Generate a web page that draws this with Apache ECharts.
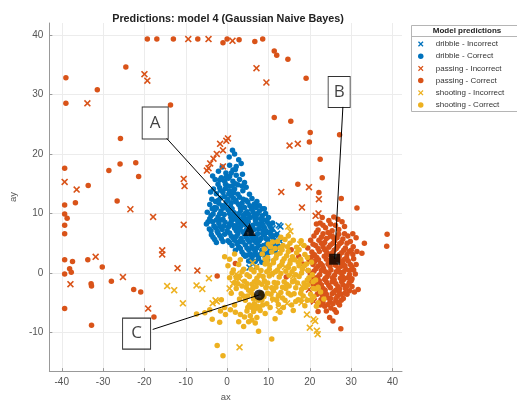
<!DOCTYPE html>
<html>
<head>
<meta charset="utf-8">
<script src="https://cdn.jsdelivr.net/npm/echarts@6/dist/echarts.min.js"></script>
<style>
  html, body { margin: 0; padding: 0; background: #fff; }
  #chart { width: 517px; height: 407px; }
</style>
</head>
<body>
<div id="chart"></div>
<script>
// Axis ticks
const xTicks = [-40, -30, -20, -10, 0, 10, 20, 30, 40];
const yTicks = [-10, 0, 10, 20, 30, 40];

// Class names shown in the legend
const classNames = [
  'dribble - Incorrect', 'dribble - Correct',
  'passing - Incorrect', 'passing - Correct',
  'shooting - Incorrect', 'shooting - Correct'
];

// Predicted points [ax, ay]
const dribbleIncorrect = [
  [11.0, 7.5], [12.5, 8.0], [12.9, 5.3], [11.4, 6.4], [12.1, 6.6], [5.4, 0.9], [7.0, 1.0], [12.9, 7.8]
];

const dribbleCorrect = [
  [1.3, 20.6], [0.5, 19.5], [2.8, 19.0], [1.8, 20.0],
  [3.4, 18.4], [2.2, 17.9], [1.4, 17.3], [-0.3, 16.8], [-2.1, 17.1], [3.7, 16.6], [0.6, 18.1], [-1.2, 17.8],
  [0.6, 16.2], [-1.4, 16.0], [-2.9, 15.7], [-0.6, 15.4], [1.4, 15.4], [3.0, 15.7], [2.2, 16.4], [-3.5, 16.3], [4.2, 15.2], [0.3, 15.9],
  [0.2, 14.6], [-1.8, 14.3], [-3.3, 14.1], [1.8, 14.1], [3.8, 13.8], [-1.0, 13.5], [1.0, 13.0], [3.0, 12.7], [5.4, 13.2], [-2.6, 13.3],
  [4.6, 14.4], [2.6, 14.8], [-0.4, 14.9], [-4.0, 13.6], [0.6, 13.8],
  [-3.7, 12.4], [-2.1, 12.2], [-0.2, 11.9], [2.2, 11.9], [4.6, 12.2], [6.6, 11.6], [7.8, 11.3], [8.6, 10.8], [-1.2, 11.3], [0.8, 11.2],
  [3.2, 11.0], [5.5, 11.3], [-4.2, 11.5], [-3.0, 11.0], [1.5, 12.6], [3.9, 12.4], [6.0, 12.5], [-0.6, 12.8], [2.8, 11.5], [7.2, 12.0],
  [-4.8, 10.2], [-3.9, 9.6], [-3.0, 10.6], [-2.2, 9.4], [-1.5, 10.4], [-0.7, 9.8], [0.2, 10.6], [0.9, 9.3], [1.7, 10.1], [2.5, 9.5],
  [3.3, 10.5], [4.0, 9.7], [4.8, 10.3], [5.6, 9.3], [6.3, 10.2], [7.0, 9.5], [7.8, 10.4], [8.5, 9.6], [9.3, 10.0], [10.0, 9.3],
  [-4.2, 9.1], [-1.0, 9.0], [2.0, 9.0], [4.5, 9.1], [6.8, 9.0], [9.0, 10.8], [-2.6, 10.9], [1.2, 10.8],
  [-5.0, 8.2], [-4.3, 7.4], [-3.5, 8.6], [-2.8, 7.6], [-2.0, 8.3], [-1.2, 7.3], [-0.5, 8.5], [0.3, 7.7], [1.0, 8.7], [1.8, 7.5],
  [2.6, 8.4], [3.3, 7.8], [4.0, 8.8], [4.7, 7.3], [6.2, 8.0], [6.9, 8.7], [7.6, 7.4], [8.3, 8.4], [9.0, 7.6], [9.7, 8.6],
  [10.4, 7.8], [11.0, 8.4], [-3.9, 7.1], [0.0, 7.1], [2.2, 7.1], [5.8, 7.0], [8.7, 7.1], [10.8, 7.2], [-1.6, 8.9], [3.0, 8.9],
  [-3.8, 6.4], [-3.0, 5.6], [-2.2, 6.7], [-1.4, 5.8], [-0.6, 6.5], [0.2, 5.4], [1.0, 6.2], [1.8, 5.5], [2.6, 6.6], [3.4, 5.8],
  [4.2, 6.5], [5.0, 5.6], [5.8, 6.3], [6.6, 5.4], [7.4, 6.6], [8.2, 5.8], [9.0, 6.4], [9.8, 5.6], [10.6, 6.3], [11.4, 5.5],
  [12.0, 6.4], [0.6, 5.1], [3.8, 5.2], [7.0, 5.1], [10.2, 5.1], [-2.6, 5.1],
  [1.2, 4.6], [2.0, 3.8], [2.8, 4.4], [3.6, 3.5], [4.4, 4.7], [5.2, 3.9], [6.0, 4.5], [6.8, 3.6], [7.6, 4.6], [8.4, 3.8],
  [9.2, 4.4], [10.0, 3.4], [10.8, 4.3], [11.6, 3.7], [12.4, 4.5], [5.6, 3.2], [8.0, 3.1], [9.6, 4.9], [4.0, 3.1], [11.2, 4.9],
  [4.4, 2.8], [5.2, 2.0], [6.0, 2.6], [6.8, 1.9], [7.6, 2.4], [8.4, 1.8], [9.2, 2.7], [5.6, 2.0], [7.2, 3.0], [9.8, 2.2],
  [-3.4, 9.9], [-2.6, 8.9], [-1.8, 9.9], [-0.9, 10.9], [0.6, 10.0], [1.4, 9.7], [2.9, 10.0], [3.7, 9.2], [4.4, 10.0], [5.2, 9.8],
  [5.9, 10.7], [6.6, 9.6], [7.4, 10.0], [8.1, 9.1], [8.9, 8.9], [-4.6, 8.6], [-3.2, 7.9], [-2.4, 7.0], [-1.6, 7.7], [-0.8, 7.9],
  [0.6, 8.2], [1.4, 8.0], [2.2, 7.9], [3.0, 7.3], [3.7, 8.4], [4.4, 8.1], [5.1, 8.6], [5.5, 7.7], [6.5, 7.3], [7.3, 8.2],
  [8.0, 7.8], [8.7, 8.0], [9.4, 7.1], [10.1, 8.2], [-3.4, 6.0], [-1.8, 6.3], [-1.0, 5.3], [0.6, 6.7], [1.4, 5.9], [2.2, 6.1],
  [3.0, 5.3], [3.8, 6.9], [4.6, 6.0], [5.4, 5.2], [6.2, 5.8], [7.0, 6.0], [7.8, 5.4], [8.6, 6.6], [9.4, 5.8], [10.0, 6.8],
  [11.0, 6.0], [2.4, 4.9], [3.2, 4.1], [4.8, 4.2], [6.4, 4.0], [7.2, 4.2], [8.8, 4.6], [10.4, 4.0], [11.8, 4.2], [5.0, 3.0],
  [6.4, 3.0], [8.8, 3.3], [-2.8, 12.0], [-1.6, 12.6], [0.2, 12.4], [1.0, 11.8], [2.0, 12.2], [3.6, 11.7], [4.2, 11.0], [5.0, 11.9],
  [6.2, 11.0], [7.0, 11.0], [-3.6, 10.8], [-2.0, 11.7], [-0.5, 11.3], [0.4, 13.3], [1.6, 13.5], [2.6, 13.2], [-1.6, 13.9], [-0.4, 14.2],
  [1.2, 14.6], [2.0, 15.0], [-2.2, 14.9], [3.6, 14.6], [-0.2, 16.1], [1.0, 16.8], [2.0, 17.4], [-1.8, 15.6]
];

const passingIncorrect = [
  [-33.8, 28.5], [-20.0, 33.4], [-19.3, 32.3], [-9.4, 39.3], [-4.5, 39.3], [1.3, 39.0], [7.1, 34.4], [9.5, 32.0],
  [15.1, 21.4], [17.1, 21.7], [19.8, 14.4], [13.1, 13.6], [-39.3, 15.3], [-36.4, 14.0], [-10.5, 15.8], [-10.3, 14.6],
  [-23.4, 10.7], [-17.9, 9.4], [-10.5, 8.1], [-15.7, 3.8], [-15.7, 3.1], [-31.8, 2.7], [-37.9, -1.9], [-25.2, -0.7],
  [-12.0, 0.8], [-7.2, 0.4], [-19.1, -6.0],
  [-1.7, 21.7], [-0.2, 22.2], [0.2, 22.6], [-1.0, 20.6], [-2.5, 20.0], [-3.3, 19.2], [-4.1, 18.4], [-4.5, 17.6], [-4.9, 17.2], [-1.0, 17.9],
  [18.1, 11.0], [22.2, 12.4], [21.4, 9.6], [20.9, 2.8], [25.2, 6.1], [23.0, -4.0], [21.0, -4.8], [28.8, -0.8], [26.4, -3.8],
  [19.8, -2.8], [24.0, 4.0], [22.1, 10.0]
];

const passingCorrect = [
  [-39.0, 32.8], [-39.0, 28.5], [-31.4, 30.8], [-24.5, 34.6], [-19.3, 39.3], [-17.0, 39.3], [-13.0, 39.3], [-7.1, 39.3],
  [-1.0, 38.7], [0.0, 39.3], [2.9, 39.2], [6.7, 38.9], [8.6, 39.3], [11.4, 37.3], [12.0, 36.6], [14.7, 35.9], [19.1, 32.7],
  [-13.7, 28.2], [-25.8, 22.6], [11.4, 26.1], [15.4, 25.5], [20.1, 23.6], [27.2, 23.2], [19.9, 22.0], [22.5, 19.1], [23.0, 16.0],
  [17.1, 14.9], [22.2, 13.5], [27.6, 12.5], [31.4, 10.9],
  [-39.3, 17.6], [-33.6, 14.7], [-28.6, 17.2], [-25.9, 18.3], [-22.1, 18.5], [-21.4, 16.2], [-39.3, 11.4], [-36.7, 11.8],
  [-26.6, 12.1], [-39.3, 9.9], [-38.7, 9.2], [-39.3, 8.0], [-39.3, 6.6], [-39.3, 2.2], [-37.4, 1.9], [-33.7, 2.2], [-30.2, 1.0],
  [-39.3, -0.2], [-38.1, 0.7], [-37.7, 0.1], [-32.9, -1.8], [-32.8, -2.2], [-28.0, -1.4], [-22.6, -2.8], [-20.9, -3.2],
  [-2.4, -0.5], [-39.3, -6.0], [-17.7, -7.4], [-32.8, -8.8], [2.0, 1.6], [38.7, 6.5], [38.6, 4.5], [33.2, 5.0], [31.2, 5.9],
  [32.6, 3.3], [27.5, -9.4], [15.5, 3.9], [17.3, 2.8], [14.3, -0.7], [18.3, 1.5],
  [22.5, 8.4], [23.8, 7.6], [24.6, 8.8], [26.2, 8.0], [27.0, 7.3], [22.0, 7.2], [25.4, 7.1], [23.0, 9.3], [26.8, 9.0], [28.4, 7.8],
  [21.0, 6.2], [22.2, 5.5], [23.2, 6.6], [24.0, 5.8], [25.0, 6.3], [26.0, 5.4], [27.0, 6.5], [28.0, 5.7], [29.2, 6.2], [23.6, 5.1],
  [25.6, 5.0], [27.6, 5.1], [20.2, 5.5], [29.8, 5.3],
  [19.5, 4.2], [20.5, 3.5], [21.4, 4.6], [22.3, 3.6], [23.2, 4.4], [24.1, 3.3], [25.0, 4.7], [25.9, 3.8], [26.8, 4.5], [27.7, 3.4],
  [28.6, 4.2], [29.5, 3.6], [21.0, 3.1], [24.6, 3.1], [27.2, 3.1], [30.5, 4.4], [30.4, 3.1],
  [19.8, 2.2], [20.8, 1.4], [21.7, 2.6], [22.6, 1.6], [23.5, 2.8], [24.4, 1.5], [25.3, 2.5], [26.2, 1.3], [27.1, 2.7], [28.0, 1.6],
  [28.9, 2.5], [29.8, 1.4], [22.0, 1.1], [24.9, 1.1], [27.6, 1.1], [30.6, 2.4], [21.2, 2.9], [28.4, 2.3],
  [19.6, 0.4], [20.6, -0.5], [21.5, 0.7], [22.4, -0.3], [23.3, 0.8], [24.2, -0.6], [25.1, 0.5], [26.0, -0.4], [26.9, 0.8], [27.8, -0.5],
  [28.7, 0.6], [29.6, -0.3], [30.6, 0.5], [23.8, 0.2], [27.3, 0.1], [21.0, -0.9], [29.6, 0.4],
  [20.4, -1.5], [21.4, -2.4], [22.3, -1.3], [23.2, -2.6], [24.1, -1.6], [25.0, -2.5], [25.9, -1.2], [26.8, -2.3], [27.7, -1.5], [28.6, -2.6],
  [29.5, -1.7], [23.7, -2.9], [26.3, -2.9], [28.2, -1.1], [31.7, -2.8], [30.2, -2.3],
  [21.8, -3.6], [22.7, -4.5], [23.6, -3.3], [24.5, -4.2], [25.4, -3.5], [26.3, -4.6], [27.2, -3.4], [28.1, -4.3], [29.0, -3.6], [30.8, -3.2],
  [24.9, -4.9], [27.6, -4.6],
  [22.5, -5.4], [23.6, -5.6], [24.0, -6.4], [25.1, -5.9], [26.0, -6.2], [26.4, -6.6], [27.2, -5.4], [24.8, -7.5], [22.0, -6.5], [25.6, -8.1],
  [21.6, 8.2], [23.2, 8.0], [25.0, 8.2], [25.8, 9.4], [27.8, 8.6], [21.6, 6.8], [22.8, 6.0], [24.4, 6.8], [25.6, 6.0], [26.6, 5.9],
  [28.4, 6.6], [29.0, 5.0], [30.4, 6.6], [20.8, 4.8], [22.0, 4.1], [22.8, 5.0], [23.6, 3.9], [24.6, 4.3], [25.5, 3.4], [26.4, 4.1],
  [27.2, 4.9], [28.2, 3.8], [29.0, 3.1], [30.0, 3.8], [31.4, 3.6], [20.3, 2.6], [21.2, 1.9], [22.1, 2.2], [23.0, 1.3], [24.0, 2.3],
  [24.8, 2.0], [25.7, 1.8], [26.6, 2.2], [27.5, 2.0], [28.5, 1.2], [29.3, 2.0], [30.2, 1.0], [31.2, 1.4], [20.1, -0.1], [21.0, 0.3],
  [21.9, -0.7], [22.8, 0.4], [23.8, -0.9], [24.6, -0.1], [25.5, -0.8], [26.4, 0.2], [27.4, -0.9], [28.2, 0.2], [29.2, -0.8], [30.2, -1.0],
  [31.0, -0.2], [20.9, -1.9], [21.8, -1.6], [22.8, -2.0], [23.6, -1.1], [24.6, -2.1], [25.4, -1.5], [26.3, -1.8], [27.2, -2.7], [28.0, -2.0],
  [29.0, -2.2], [30.0, -1.3], [22.3, -3.2], [23.1, -3.8], [24.0, -3.6], [25.0, -4.3], [25.8, -3.2], [26.7, -3.9], [27.6, -3.6], [28.5, -3.4],
  [29.6, -3.0], [23.2, -5.0], [24.4, -5.3], [25.6, -5.2], [26.8, -5.0]
];

const shootingIncorrect = [
  [-4.4, -0.9], [-14.5, -2.2], [-12.8, -2.9], [-7.4, -2.1], [-6.0, -2.7], [-10.7, -5.1], [-2.8, -4.6], [3.0, -12.5],
  [-2.5, -4.8], [-3.5, -5.1], [19.3, -7.0], [20.0, -9.2], [21.9, -10.3], [21.3, -8.1], [20.9, -7.8], [11.4, -4.5],
  [17.7, 4.8], [14.8, 7.8], [15.3, 7.0], [2.2, -0.2], [1.4, -1.8], [3.0, -1.0], [0.6, -2.6], [12.5, -3.7], [12.5, -6.2],
  [18.1, -2.3], [19.7, -4.5], [17.7, 1.7], [10.6, -0.2], [6.2, 1.7], [9.5, -2.0], [16.0, -0.6], [14.0, 1.0], [18.0, -5.0],
  [14.5, -5.1], [21.7, -9.7]
];

const shootingCorrect = [
  [-7.4, -6.9], [-5.4, -6.7], [-4.2, -6.2], [-3.6, -7.8], [-1.8, -8.3], [-2.4, -12.2], [-1.0, -13.9], [-1.4, -4.5], [-0.6, 2.7],
  [7.6, -9.8], [10.8, -11.1], [11.6, -7.7],
  [10.5, 4.4], [12.2, 5.3], [13.5, 4.6], [15.2, 5.0], [16.8, 4.3], [14.0, 5.6], [11.6, 4.1], [17.9, 5.4],
  [8.5, 3.2], [9.8, 2.6], [10.8, 3.5], [11.8, 2.5], [12.8, 3.3], [13.8, 2.4], [14.8, 3.6], [15.8, 2.7], [16.8, 3.4], [17.8, 2.3],
  [18.8, 3.1], [11.2, 2.1], [13.3, 3.9], [15.3, 2.1], [0.6, 2.3], [1.8, 3.2], [3.2, 2.2],
  [0.2, 1.2], [1.5, 0.5], [2.8, 1.4], [4.0, 0.6], [8.2, 0.4], [9.2, 1.5], [10.2, 0.6], [11.2, 1.7], [12.2, 0.5], [13.2, 1.4],
  [14.2, 0.3], [15.2, 1.6], [16.2, 0.7], [17.2, 1.8], [18.2, 0.6], [19.2, 1.5], [9.7, 1.9], [12.7, 1.1], [15.7, 0.2], [18.7, 1.2], [6.5, 0.2],
  [0.6, -0.8], [1.8, -1.6], [3.0, -0.5], [4.2, -1.4], [5.4, -0.6], [6.6, -1.5], [7.8, -0.4], [9.0, -1.3], [10.2, -0.5], [11.4, -1.6],
  [12.6, -0.7], [13.8, -1.5], [15.0, -0.4], [16.2, -1.3], [17.4, -0.6], [18.6, -1.7], [19.8, -0.8], [20.8, -1.5], [8.4, -1.9],
  [14.4, -1.9], [6.0, -1.9], [11.0, -0.1],
  [2.2, -2.6], [3.4, -3.5], [4.6, -2.4], [5.8, -3.3], [7.0, -2.3], [8.2, -3.4], [9.4, -2.5], [10.6, -3.6], [11.8, -2.4], [13.0, -3.3],
  [14.2, -2.6], [15.4, -3.7], [16.6, -2.5], [17.8, -3.4], [19.0, -2.4], [20.2, -3.6], [21.4, -2.7], [22.6, -3.2], [6.4, -3.9],
  [12.4, -3.9], [18.4, -3.9], [4.0, -3.9],
  [4.4, -4.6], [5.4, -5.4], [6.4, -4.4], [7.4, -5.6], [8.4, -4.6], [9.6, -5.2], [11.0, -4.4], [12.4, -5.3], [14.0, -4.6], [15.6, -5.4],
  [17.2, -4.5], [18.8, -5.5], [20.4, -4.6], [22.0, -5.0], [23.4, -4.4],
  [4.8, -6.4], [5.6, -7.2], [6.4, -6.5], [7.2, -7.5], [8.0, -6.3], [6.0, -7.9], [9.2, -6.8], [12.8, -6.6], [16.0, -6.3], [2.0, -6.6], [3.2, -7.0],
  [9.0, 4.0], [10.0, 4.8], [11.0, 5.2], [12.8, 4.2], [14.6, 4.4], [16.0, 5.5], [17.4, 3.9], [18.6, 4.6], [19.4, 2.6], [9.2, 2.3],
  [10.3, 1.3], [12.0, 3.0], [13.4, 1.9], [14.4, 2.9], [16.3, 2.2], [17.4, 1.2], [19.6, 0.4], [20.4, 1.8], [8.7, -0.6], [9.6, 0.2],
  [11.7, 0.2], [13.0, -0.1], [14.8, 0.9], [16.6, -0.3], [18.0, 0.0], [19.4, -1.2], [20.6, -0.3], [21.4, -1.2], [1.2, 0.0], [2.2, -0.8],
  [3.6, 0.2], [4.8, -0.3], [5.8, 0.6], [7.2, -0.9], [7.2, 0.9], [2.6, -1.8], [3.6, -2.2], [4.8, -1.8], [5.2, -2.9], [6.2, -2.6],
  [7.6, -1.6], [9.8, -1.7], [10.8, -2.5], [12.2, -1.7], [13.4, -2.4], [15.0, -2.2], [15.8, -1.5], [17.0, -1.7], [18.0, -2.8], [19.6, -2.0],
  [20.8, -2.6], [22.0, -2.4], [3.0, -4.4], [5.0, -3.9], [6.6, -5.2], [7.6, -4.6], [8.9, -4.0], [9.8, -3.4], [11.2, -3.0], [12.0, -4.6],
  [13.4, -4.2], [14.8, -3.4], [16.2, -3.5], [16.6, -4.8], [17.8, -4.6], [19.4, -4.6], [21.0, -4.0], [21.6, -5.6], [5.0, -5.8], [6.0, -5.8],
  [6.8, -6.0], [7.8, -6.0], [8.6, -5.4], [5.2, -8.2], [6.8, -8.4], [4.2, -7.4], [10.4, -5.8], [13.6, -5.8], [1.0, -3.4], [-0.6, -5.8],
  [0.8, -6.2], [1.8, -5.4], [-0.4, -7.0], [-1.6, -6.4], [2.8, -8.2], [4.0, -9.0], [14.8, 6.2], [13.0, 6.0]
];

// Callout labels, their box positions and the points they mark
const calloutNames = ['A', 'B', 'C'];
const calloutBoxes = [[-17.4, 25.2], [27.1, 30.4], [-21.9, -10.2]];
const calloutBoxSizes = [[26, 32], [22, 31], [28, 31]];
const calloutLineStarts = [[-14.6, 22.6], [28.0, 27.9], [-18.0, -9.5]];
const calloutPoints = [[5.4, 7.3], [26.0, 2.3], [7.8, -3.7]];
const calloutSymbols = ['triangle', 'rect', 'circle'];
const calloutSymbolSizes = [13, 11, 11];

const BLUE = '#0072BD', ORANGE = '#D95319', YELLOW = '#EDB120';
const CROSS = 'path://M0,1.6L1.6,0L5,3.4L8.4,0L10,1.6L6.6,5L10,8.4L8.4,10L5,6.6L1.6,10L0,8.4L3.4,5Z';
const FONT = '"Liberation Sans", Arial, sans-serif';

function pointSeries(name, data, color, isCross) {
  return {
    name: name,
    type: 'scatter',
    data: data,
    symbol: isCross ? CROSS : 'circle',
    symbolSize: isCross ? 7 : 5.5,
    itemStyle: { color: color, opacity: 1 },
    emphasis: { disabled: true },
    silent: true,
    animation: false
  };
}

const chart = echarts.init(document.getElementById('chart'), null, { renderer: 'canvas' });

const option = {
  animation: false,
  backgroundColor: '#fff',
  title: {
    text: 'Predictions: model 4 (Gaussian Naive Bayes)',
    left: 223, top: 9, textAlign: 'center',
    textStyle: { fontFamily: FONT, fontSize: 10.8, fontWeight: 'bold', color: '#222' }
  },
  grid: { left: 43, right: 115, top: 23, bottom: 27 },
  xAxis: {
    type: 'value', min: -43, max: 42.3, splitNumber: 8,
    name: 'ax', nameLocation: 'middle', nameGap: 18,
    nameTextStyle: { fontFamily: FONT, fontSize: 9.5, color: '#555' },
    axisLine: { show: true, onZero: false, lineStyle: { color: '#999', width: 1 } },
    axisTick: { show: true, inside: true, length: 3, customValues: xTicks, lineStyle: { color: '#999' } },
    axisLabel: { customValues: xTicks, fontFamily: FONT, fontSize: 10, color: '#555', margin: 6 },
    splitLine: { show: true, lineStyle: { color: '#ececec', width: 1 } }
  },
  yAxis: {
    type: 'value', min: -16.5, max: 42, splitNumber: 6,
    name: 'ay', nameLocation: 'middle', nameGap: 26, nameRotate: 90,
    nameTextStyle: { fontFamily: FONT, fontSize: 9.5, color: '#555' },
    axisLine: { show: true, onZero: false, lineStyle: { color: '#999', width: 1 } },
    axisTick: { show: true, inside: true, length: 3, customValues: yTicks, lineStyle: { color: '#999' } },
    axisLabel: { customValues: yTicks, fontFamily: FONT, fontSize: 10, color: '#555', margin: 6 },
    splitLine: { show: true, lineStyle: { color: '#ececec', width: 1 } }
  },
  legend: {
    data: classNames,
    orient: 'vertical',
    left: 418, top: 40,
    itemWidth: 20, itemHeight: 5.5, itemGap: 4.2,
    selectedMode: false,
    textStyle: { fontFamily: FONT, fontSize: 8, color: '#333', lineHeight: 8 },
    padding: 0
  },
  graphic: [
    { type: 'rect', z: 1, shape: { x: 411.5, y: 25.5, width: 130, height: 86 },
      style: { fill: '#fff', stroke: '#b5b5b5', lineWidth: 1 } },
    { type: 'line', z: 2, shape: { x1: 411.5, y1: 36.5, x2: 541, y2: 36.5 },
      style: { stroke: '#b5b5b5', lineWidth: 1 } },
    { type: 'text', z: 3, x: 467, y: 31,
      style: { text: 'Model predictions', align: 'center', verticalAlign: 'middle',
               font: 'bold 8px "Liberation Sans", Arial, sans-serif', fill: '#222' } }
  ],
  series: [
    pointSeries(classNames[0], dribbleIncorrect, BLUE, true),
    pointSeries(classNames[1], dribbleCorrect, BLUE, false),
    pointSeries(classNames[2], passingIncorrect, ORANGE, true),
    pointSeries(classNames[3], passingCorrect, ORANGE, false),
    pointSeries(classNames[4], shootingIncorrect, YELLOW, true),
    pointSeries(classNames[5], shootingCorrect, YELLOW, false),
    {
      // leader lines from the callout boxes to the marked points
      name: 'callout-lines', type: 'scatter', data: [], silent: true,
      markLine: {
        silent: true, symbol: ['none', 'none'], animation: false,
        label: { show: false },
        lineStyle: { color: '#000', width: 1, type: 'solid' },
        data: calloutLineStarts.map((s, i) => [{ coord: s }, { coord: calloutPoints[i] }])
      }
    },
    {
      name: 'callout-points', type: 'scatter', silent: true,
      itemStyle: { color: '#000' },
      data: calloutPoints.map((p, i) => ({
        value: p, symbol: calloutSymbols[i], symbolSize: calloutSymbolSizes[i]
      }))
    },
    {
      name: 'callout-boxes', type: 'scatter', silent: true,
      itemStyle: { color: '#fff', borderColor: '#000', borderWidth: 1 },
      label: {
        show: true, position: 'inside', formatter: p => p.name,
        fontFamily: '"Open Sans", "Liberation Sans", sans-serif', fontSize: 17, color: '#111'
      },
      data: calloutBoxes.map((b, i) => ({
        name: calloutNames[i], value: b, symbol: 'rect', symbolSize: calloutBoxSizes[i]
      }))
    }
  ]
};

chart.setOption(option);
</script>
</body>
</html>
